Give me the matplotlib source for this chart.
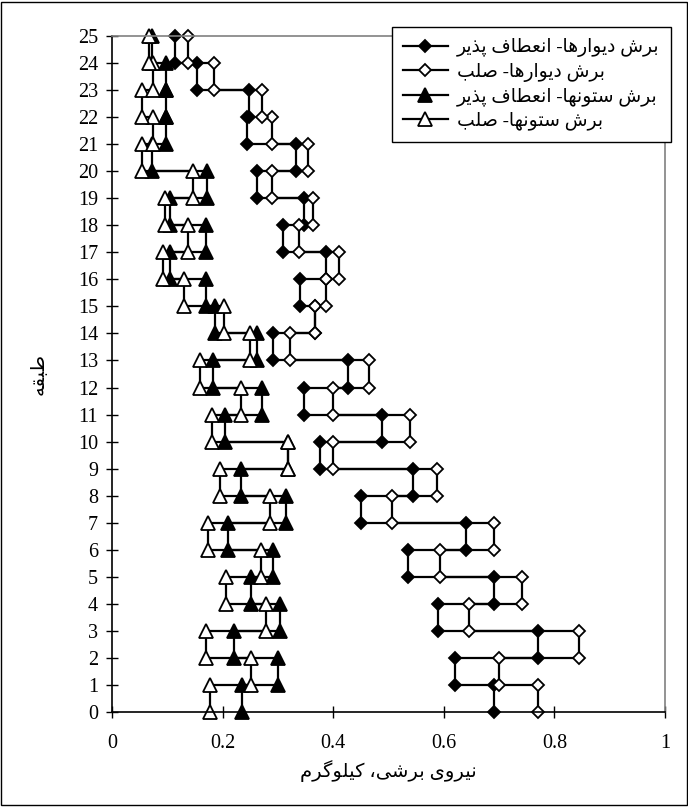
#!/usr/bin/env python3
"""Shear force per story (walls / columns, ductile vs rigid) as step profiles."""
import matplotlib
matplotlib.use("Agg")
import matplotlib.pyplot as plt  # noqa: E402
from matplotlib.patches import Rectangle  # noqa: E402

# story k spans floor k-1 .. k, value read per story (k = 1..25)
STORIES = list(range(1, 26))
WALLS_DUCTILE = [0.69, 0.62, 0.77, 0.59, 0.69, 0.535, 0.64, 0.45, 0.545, 0.377,
                 0.488, 0.347, 0.426, 0.292, 0.367, 0.34, 0.387, 0.31, 0.347, 0.263,
                 0.333, 0.245, 0.248, 0.154, 0.114]
WALLS_RIGID = [0.77, 0.70, 0.845, 0.646, 0.742, 0.594, 0.69, 0.506, 0.588, 0.40,
               0.538, 0.40, 0.465, 0.322, 0.367, 0.387, 0.411, 0.339, 0.364, 0.289,
               0.355, 0.289, 0.271, 0.185, 0.138]
COLS_DUCTILE = [0.235, 0.301, 0.221, 0.304, 0.251, 0.292, 0.209, 0.315, 0.234, 0.319,
                0.205, 0.272, 0.182, 0.262, 0.186, 0.170, 0.105, 0.170, 0.105, 0.171,
                0.073, 0.098, 0.098, 0.097, 0.072]
COLS_RIGID = [0.178, 0.251, 0.170, 0.278, 0.206, 0.269, 0.173, 0.286, 0.195, 0.319,
              0.181, 0.234, 0.159, 0.250, 0.202, 0.130, 0.093, 0.137, 0.095, 0.147,
              0.054, 0.075, 0.055, 0.075, 0.066]

LABELS = ["برش دیوارها- انعطاف پذیر", "برش دیوارها- صلب",
          "برش ستونها- انعطاف پذیر", "برش ستونها- صلب"]
XLABEL = "نیروی برشی، کیلوگرم"
YLABEL = "طبقه"

# matplotlib has no arabic shaping -> pick presentation forms by hand
JOIN2 = {  # iso, fin, ini, med
    "ب": (0xFE8F, 0xFE90, 0xFE91, 0xFE92), "پ": (0xFB56, 0xFB57, 0xFB58, 0xFB59),
    "ت": (0xFE95, 0xFE96, 0xFE97, 0xFE98), "س": (0xFEB1, 0xFEB2, 0xFEB3, 0xFEB4),
    "ش": (0xFEB5, 0xFEB6, 0xFEB7, 0xFEB8), "ص": (0xFEB9, 0xFEBA, 0xFEBB, 0xFEBC),
    "ط": (0xFEC1, 0xFEC2, 0xFEC3, 0xFEC4), "ع": (0xFEC9, 0xFECA, 0xFECB, 0xFECC),
    "ف": (0xFED1, 0xFED2, 0xFED3, 0xFED4), "ق": (0xFED5, 0xFED6, 0xFED7, 0xFED8),
    "ک": (0xFB8E, 0xFB8F, 0xFB90, 0xFB91), "گ": (0xFB92, 0xFB93, 0xFB94, 0xFB95),
    "ل": (0xFEDD, 0xFEDE, 0xFEDF, 0xFEE0), "م": (0xFEE1, 0xFEE2, 0xFEE3, 0xFEE4),
    "ن": (0xFEE5, 0xFEE6, 0xFEE7, 0xFEE8), "ه": (0xFEE9, 0xFEEA, 0xFEEB, 0xFEEC),
    "ی": (0xFBFC, 0xFBFD, 0xFBFE, 0xFBFF),
}
JOIN1 = {"ا": (0xFE8D, 0xFE8E), "د": (0xFEA9, 0xFEAA), "ذ": (0xFEAB, 0xFEAC),
         "ر": (0xFEAD, 0xFEAE), "و": (0xFEED, 0xFEEE)}


def shape(s):
    out = []
    for i, c in enumerate(s):
        prev = s[i - 1] if i > 0 else ""
        nxt = s[i + 1] if i + 1 < len(s) else ""
        jp = prev in JOIN2
        if c in JOIN1:
            out.append(chr(JOIN1[c][1 if jp else 0]))
        elif c in JOIN2:
            jn = nxt in JOIN1 or nxt in JOIN2
            idx = 3 if jp and jn else 1 if jp else 2 if jn else 0
            out.append(chr(JOIN2[c][idx]))
        else:
            out.append(c)
    return "".join(reversed(out))


def steps(vals):
    xs, ys = [], []
    for k, v in zip(STORIES, vals):
        xs += [v, v]
        ys += [k - 1, k]
    return xs, ys


def main():
    plt.rcParams["font.family"] = ["Liberation Serif", "DejaVu Sans"]
    fig = plt.figure(figsize=(6.88, 8.07), dpi=100)
    ax = fig.add_axes([0.1628, 0.1177, 0.8038, 0.8377])

    styles = [
        (WALLS_DUCTILE, "D", "black", 6.4),
        (WALLS_RIGID, "D", "white", 6.4),
        (COLS_DUCTILE, "^", "black", 9.4),
        (COLS_RIGID, "^", "white", 9.4),
    ]
    for (vals, m, fc, ms), lab in zip(styles, LABELS):
        xs, ys = steps(vals)
        ax.plot(xs, ys, color="black", lw=1.6, marker=m, ms=ms, mfc=fc,
                mec="black", mew=1.3, clip_on=False, label=shape(lab))

    ax.set_xlim(0, 1)
    ax.set_ylim(0, 25)
    ax.set_xticks([0, 0.2, 0.4, 0.6, 0.8, 1])
    ax.set_xticklabels(["0", "0.2", "0.4", "0.6", "0.8", "1"])
    ax.set_yticks(range(0, 26))
    ax.tick_params(direction="inout", length=8, width=1, labelsize=14.5)
    ax.tick_params(axis="x", pad=12)
    ax.tick_params(axis="y", pad=6)
    for s in ("left", "bottom"):
        ax.spines[s].set_linewidth(1.2)
    for s in ("top", "right"):
        ax.spines[s].set_color("#808080")
        ax.spines[s].set_linewidth(1.2)

    ax.set_xlabel(shape(XLABEL), fontsize=14, labelpad=5)
    ax.set_ylabel(shape(YLABEL), fontsize=14, labelpad=22)

    leg = fig.legend(loc="upper right", bbox_to_anchor=(671 / 688, 1 - 27 / 807),
                     fontsize=13.5, frameon=True, fancybox=False, edgecolor="black",
                     framealpha=1, borderaxespad=0, handlelength=2.4, labelspacing=0.3,
                     borderpad=0.6, handletextpad=0.5)
    leg.get_frame().set_linewidth(1.0)

    fig.patches.append(Rectangle((0.002, 0.002), 0.996, 0.996, transform=fig.transFigure,
                                 fill=False, ec="black", lw=1.0))
    fig.savefig("out.png", dpi=100)
    plt.close(fig)


if __name__ == "__main__":
    main()
